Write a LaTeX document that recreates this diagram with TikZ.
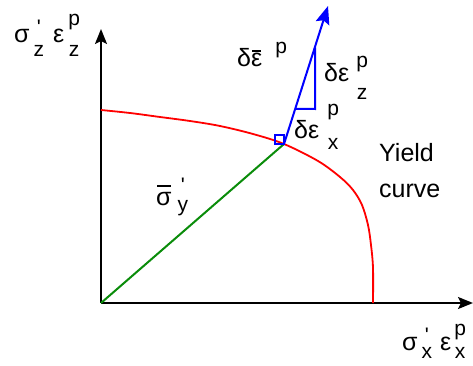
\documentclass[tikz,border=0pt]{standalone}
\usepackage{fontspec}
\newfontfamily\lib{Liberation Sans}
\usetikzlibrary{arrows.meta,calc}
\definecolor{grn}{RGB}{10,140,10}
\newdimen\ssw
\newcommand\SupSub[4]{\setbox1\hbox{\fontsize{21}{21}\selectfont #3}\setbox2\hbox{\fontsize{21}{21}\selectfont #4}\ssw=\wd1 \ifdim\wd2>\ssw \ssw=\wd2 \fi\rlap{\hbox to\ssw{\hss\raisebox{#1}{\box1}\hss}}\hbox to\ssw{\hss\raisebox{-#2}{\box2}\hss}}
\newcommand\OvBar[2]{\setbox3\hbox{#2}\rlap{\raisebox{\dimexpr\ht3+#1}{\kern1pt\rule{\dimexpr\wd3-2pt}{1.3pt}}}\box3}
\begin{document}
\begin{tikzpicture}[x=1pt,y=-1pt,
  axis/.style={line width=2pt,-{Stealth[length=15pt,width=12pt,inset=3pt]}},
  yieldc/.style={red,line width=1.8pt},
  radial/.style={grn,line width=2pt},
  flow/.style={blue,line width=2pt},
  flowarrow/.style={flow,-{Stealth[length=18pt,width=14pt,inset=3pt]}},
  lbl/.style={inner sep=0pt,anchor=base west,font=\lib\fontsize{25}{25}\selectfont}]
\useasboundingbox (0,0) rectangle (473,366);
\coordinate (O) at (101,303);
\coordinate (ztip) at (101,29);
\coordinate (xtip) at (473,303);
\coordinate (P) at (284,144);
\coordinate (T) at (328,6);
% axes
\draw[axis] (O) -- (ztip);
\draw[axis] (O) -- (xtip);
% yield curve
\draw[yieldc] plot[smooth,tension=0.55] coordinates {(101,110) (130,113) (160,117) (190,121) (220,126) (253,134) (284,144) (318,161) (340,177) (353,190) (362,205) (368,225) (371,245) (373,268) (373,303)};
% radial line
\draw[radial] (O) -- (P);
% normal flow arrow
\draw[flowarrow] (P) -- (T);
\draw[flow] (275,135) rectangle (284,144);
\coordinate (A) at ($(P)!0.255!(T)$);
\coordinate (B) at (315,109);
\coordinate (C) at ($(P)!0.70!(T)$);
\draw[flow] (A) -- (B) -- (B |- C);
% labels
\node[lbl] (lz) at (14,43) {σ\kern4pt\SupSub{8pt}{14pt}{'}{z}\kern9pt ε\kern4pt\SupSub{17pt}{14pt}{p}{z}};
\node[lbl] (lx) at (402,350) {σ\kern4pt\SupSub{8pt}{8pt}{'}{x}\kern8pt ε\kern3pt\SupSub{15pt}{8pt}{p}{x}};
\node[lbl] (dep) at (237,67) {δ\OvBar{2pt}{ε}\kern13pt\SupSub{13pt}{0pt}{p}{}};
\node[lbl] (dez) at (324,82) {δε\kern7pt\SupSub{14pt}{18pt}{p}{z}};
\node[lbl] (dex) at (294,139) {δε\kern8pt\SupSub{23pt}{11pt}{p}{x}};
\node[lbl] (sy) at (156,205) {\OvBar{5pt}{σ}\kern6pt\SupSub{13pt}{6pt}{'}{y}};
\node[lbl,align=left,font=\lib\fontsize{25}{36}\selectfont] (yc) at (379,197) {Yield\\curve};
\end{tikzpicture}
\end{document}
